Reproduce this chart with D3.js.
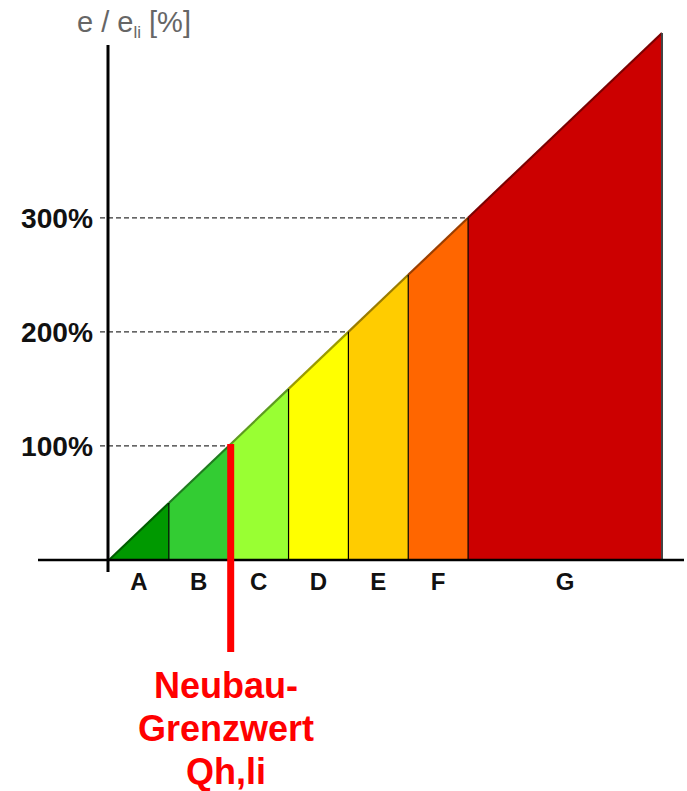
<!DOCTYPE html>
<head>
    <meta charset="utf-8">
    <script src="https://d3js.org/d3.v7.min.js"></script>
    <style>
        body { margin: 0; background: #fff; }
        text { font-family: Arial, "Liberation Sans", sans-serif; }
    </style>
</head>

<body>
    <div id="chart"></div>
</body>

<script>

    // classes and their upper bound in % of the limit value
    const classes = ["A", "B", "C", "D", "E", "F", "G"];
    const bounds = [0, 50, 100, 150, 200, 250, 300, 462];
    const colors = ["#009900", "#33cc33", "#99ff33", "#ffff00", "#ffcc00", "#ff6600", "#cc0000"];
    const yTicks = [100, 200, 300];
    const limitValue = 100;
    const limitLabel = ["Neubau-", "Grenzwert", "Qh,li"];

    const width = 687, height = 791;

    const svg = d3.select("#chart")
        .append("svg")
            .attr("width", width)
            .attr("height", height);

    const x = d3.scaleLinear()
        .domain([0, 462])
        .range([109, 662]);

    const y = d3.scaleLinear()
        .domain([0, 462])
        .range([560, 33]);

    // class areas under the diagonal
    const segs = classes.map((c, i) => ({ name: c, x0: bounds[i], x1: bounds[i + 1], color: colors[i] }));

    svg.selectAll(".seg")
        .data(segs)
        .join("path")
            .attr("class", "seg")
            .attr("fill", d => d.color)
            .attr("d", d => d3.line()([
                [x(d.x0), y(0)], [x(d.x0), y(d.x0)], [x(d.x1), y(d.x1)], [x(d.x1), y(0)]
            ]) + "Z");

    // darker edge along the diagonal
    svg.selectAll(".edge")
        .data(segs)
        .join("line")
            .attr("stroke", d => d3.color(d.color).darker(1.4))
            .attr("stroke-width", 2.2)
            .attr("x1", d => x(d.x0)).attr("y1", d => y(d.x0))
            .attr("x2", d => x(d.x1)).attr("y2", d => y(d.x1));

    // class borders
    svg.selectAll(".border")
        .data(bounds.slice(1))
        .join("line")
            .attr("stroke", (d, i) => i === bounds.length - 2 ? "#444" : "#000")
            .attr("stroke-width", (d, i) => i === bounds.length - 2 ? 2 : 1.2)
            .attr("x1", d => x(d)).attr("y1", d => y(d))
            .attr("x2", d => x(d)).attr("y2", y(0));

    // dashed grid to the diagonal
    svg.selectAll(".grid")
        .data(yTicks)
        .join("line")
            .attr("stroke", "#333")
            .attr("stroke-width", 1.3)
            .attr("stroke-dasharray", "5,3")
            .attr("x1", 100).attr("y1", d => y(d))
            .attr("x2", d => x(d)).attr("y2", d => y(d));

    svg.selectAll(".ytick")
        .data(yTicks)
        .join("text")
            .attr("x", 93)
            .attr("y", d => y(d) + 10)
            .attr("text-anchor", "end")
            .attr("font-size", 28)
            .attr("font-weight", "bold")
            .attr("fill", "#111")
            .attr("textLength", 72)
            .attr("lengthAdjust", "spacingAndGlyphs")
            .text(d => d + "%");

    // axes
    svg.append("line")
        .attr("stroke", "#000").attr("stroke-width", 3)
        .attr("x1", 108).attr("x2", 108)
        .attr("y1", 45).attr("y2", 572);

    svg.append("line")
        .attr("stroke", "#000").attr("stroke-width", 2.5)
        .attr("x1", 38).attr("x2", 684)
        .attr("y1", y(0)).attr("y2", y(0));

    // class labels
    svg.selectAll(".cls")
        .data(segs)
        .join("text")
            .attr("x", d => x((d.x0 + d.x1) / 2))
            .attr("y", 590)
            .attr("text-anchor", "middle")
            .attr("font-size", 24)
            .attr("font-weight", "bold")
            .attr("fill", "#111")
            .text(d => d.name);

    // axis title
    const title = svg.append("text")
        .attr("x", 77).attr("y", 32)
        .attr("font-size", 29)
        .attr("fill", "#666");
    title.append("tspan").text("e / e");
    title.append("tspan").attr("font-size", 17).attr("dy", 6).text("li");
    title.append("tspan").attr("dy", -6).text(" [%]");

    // limit marker
    svg.append("line")
        .attr("stroke", "#ff0000").attr("stroke-width", 7)
        .attr("x1", x(limitValue) + 2).attr("x2", x(limitValue) + 2)
        .attr("y1", y(limitValue) - 2).attr("y2", 652);

    svg.selectAll(".lim")
        .data(limitLabel)
        .join("text")
            .attr("x", 226)
            .attr("y", (d, i) => 698 + i * 43)
            .attr("text-anchor", "middle")
            .attr("font-size", 36)
            .attr("font-weight", "bold")
            .attr("fill", "#ff0000")
            .text(d => d);

</script>
</html>
